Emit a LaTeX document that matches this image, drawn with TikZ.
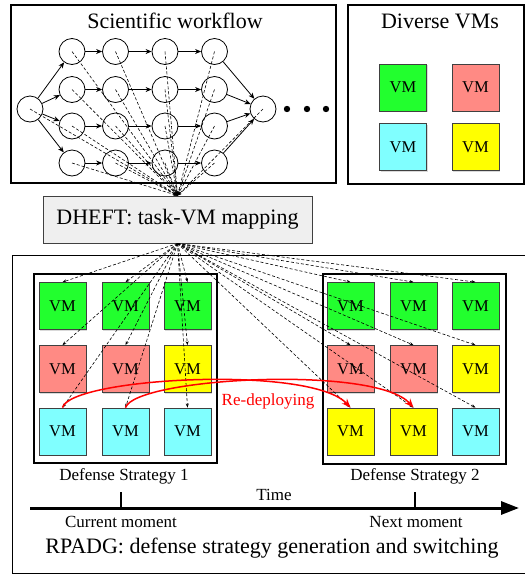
\documentclass[tikz,border=0pt]{standalone}
\usepackage{fontspec}
\setmainfont{Liberation Serif}
\usetikzlibrary{arrows.meta,shadows}
\definecolor{vmgreen}{HTML}{22FF2E}
\definecolor{vmred}{HTML}{FF8A84}
\definecolor{vmcyan}{HTML}{80FFFF}
\definecolor{vmyellow}{HTML}{FFFF00}
\definecolor{boxgray}{HTML}{EFEFEF}
\definecolor{edgegray}{HTML}{404040}
\definecolor{redeploy}{HTML}{FF0000}

\begin{document}
\begin{tikzpicture}[x=1pt,y=-1pt,
  frame/.style={draw=black, line width=1.2pt},
  bigfont/.style={font=\fontsize{22}{26}\selectfont},
  smallfont/.style={font=\fontsize{17}{20}\selectfont},
  task/.style={circle, draw, line width=0.8pt, minimum size=26pt, inner sep=0pt},
  vm/.style={draw=edgegray, line width=0.8pt, minimum size=47pt, inner sep=0pt,
    font=\fontsize{16.5}{18}\selectfont,
    drop shadow={shadow xshift=1pt, shadow yshift=-1pt, opacity=0.3, fill=gray}},
  flow/.style={-{Stealth[length=6pt,width=5pt]}, line width=0.8pt},
  map/.style={densely dashed, line width=0.6pt, -{Stealth[length=4pt,width=3pt]}},
  movearrow/.style={draw=redeploy, line width=1.5pt, -{Stealth[length=9pt,width=7pt]}},
]
\useasboundingbox (0,0) rectangle (525,574);

% ---------- frames ----------
\draw[frame] (11,5) rectangle (336,183);
\draw[frame] (348,5) rectangle (524,184);
\draw[frame, line width=1pt] (12,255) rectangle (530,573);
\draw[frame] (34,274) rectangle (217,463);
\draw[frame] (323,274) rectangle (506,464);

\node[bigfont] (wftitle) at (175,21) {Scientific workflow};
\node[bigfont] (vmtitle) at (440,21) {Diverse VMs};

% ---------- workflow DAG ----------
\node[task] (entry) at (30,109) {};
\node[task] (exit) at (263,109) {};
\foreach \c/\x in {1/72,2/115.5,3/165,4/214.5}{
  \foreach \r/\y in {1/51.5,2/89.5,3/126,4/163}{
    \node[task] (t\c\r) at (\x,\y) {};
  }
}
\foreach \r in {1,...,4}{
  \draw[flow] (entry) -- (t1\r);
  \draw[flow] (t1\r) -- (t2\r);
  \draw[flow] (t2\r) -- (t3\r);
  \draw[flow] (t3\r) -- (t4\r);
  \draw[flow] (t4\r) -- (exit);
}
\foreach \i/\x in {1/287,2/307,3/326}{
  \fill (\x,109) circle (3.2pt) coordinate (dot\i);
}

% ---------- mapping box ----------
\node[draw=edgegray, fill=boxgray, line width=0.9pt, bigfont,
      minimum width=269pt, minimum height=47pt, inner sep=0pt]
      (dheft) at (177.5,219.5) {DHEFT: task-VM mapping};

% tasks handed to the mapper
\draw[map] (entry.center) -- (dheft.north);
\draw[map] (exit.center) -- (dheft.north);
\foreach \c in {1,...,4}{
  \foreach \r in {1,...,4}{
    \draw[map] (t\c\r.center) -- (dheft.north);
  }
}

% ---------- VM pool ----------
\node[vm, fill=vmgreen]  (p1) at (403,87.5)  {VM};
\node[vm, fill=vmred]    (p2) at (475.5,87.5) {VM};
\node[vm, fill=vmcyan]   (p3) at (403,147)   {VM};
\node[vm, fill=vmyellow] (p4) at (475.5,147) {VM};

% ---------- defense strategies ----------
\foreach \c/\x/\ca/\cb/\cc in {1/62.5/vmgreen/vmred/vmcyan,
                               2/125.5/vmgreen/vmred/vmcyan,
                               3/187.5/vmgreen/vmyellow/vmcyan}{
  \node[vm, fill=\ca] (a1\c) at (\x,306)   {VM};
  \node[vm, fill=\cb] (a2\c) at (\x,369)   {VM};
  \node[vm, fill=\cc] (a3\c) at (\x,431.5) {VM};
}
\foreach \c/\x/\ca/\cb/\cc in {1/350.5/vmgreen/vmred/vmyellow,
                               2/413.5/vmgreen/vmred/vmyellow,
                               3/475.5/vmgreen/vmyellow/vmcyan}{
  \node[vm, fill=\ca] (b1\c) at (\x,306)   {VM};
  \node[vm, fill=\cb] (b2\c) at (\x,369)   {VM};
  \node[vm, fill=\cc] (b3\c) at (\x,431.5) {VM};
}

\foreach \r in {1,2,3}{
  \foreach \c in {1,2,3}{
    \draw[map] (dheft.south) -- (a\r\c.north);
    \draw[map] (dheft.south) -- (b\r\c.north);
  }
}

% re-deployment of the two cyan VMs
\draw[movearrow] (a31.north) .. controls +(8,-30) and +(-40,-43) .. (b31.north);
\draw[movearrow] (a32.north) .. controls +(10,-30) and +(-38,-43) .. (b32.north);
\node[smallfont, text=redeploy] (redep) at (268,401) {Re-deploying};

\node[smallfont] (ds1) at (124,476) {Defense Strategy 1};
\node[smallfont] (ds2) at (415,476) {Defense Strategy 2};

% ---------- time axis ----------
\coordinate (tstart) at (30,508);
\coordinate (tend) at (519,508);
\coordinate (now) at (121,508);
\coordinate (next) at (415,508);
\draw[line width=3pt, -{Triangle[length=18pt,width=13pt]}] (tstart) -- (tend);
\draw[line width=2.5pt] (now) -- ++(0,-16);
\draw[line width=2.5pt] (next) -- ++(0,-16);
\node[smallfont] (timelab) at (274,495) {Time};
\node[smallfont] (nowlab) at (121,522) {Current moment};
\node[smallfont] (nextlab) at (416,522) {Next moment};

\node[bigfont] (rpadg) at (272,548) {RPADG: defense strategy generation and switching};
\end{tikzpicture}
\end{document}
